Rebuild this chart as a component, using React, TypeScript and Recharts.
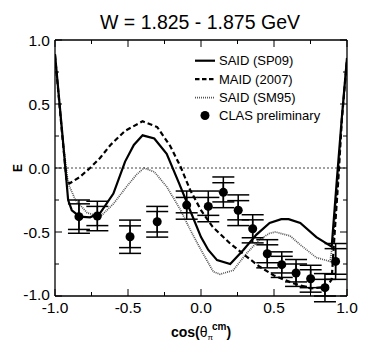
import React from "react";
import { ComposedChart, Line, Scatter, ErrorBar, XAxis, YAxis, ReferenceLine } from "recharts";

const FONT = "'Liberation Sans', Arial, Helvetica, sans-serif";

const AXIS_TICKS = [-1, -0.75, -0.5, -0.25, 0, 0.25, 0.5, 0.75, 1];
const MAJOR_TICKS = [-1, -0.5, 0, 0.5, 1];

// SAID (SP09)
const sp09X = [-1, -0.95, -0.91, -0.885, -0.83, -0.76, -0.69, -0.6, -0.52, -0.46, -0.4, -0.32, -0.235, -0.15, -0.075, 0, 0.05, 0.11, 0.2, 0.29, 0.38, 0.47, 0.55, 0.6, 0.68, 0.79, 0.895, 0.93, 0.965, 1];
const sp09Y = [0.89, 0.27, -0.25, -0.33, -0.38, -0.385, -0.35, -0.2, 0.05, 0.18, 0.255, 0.23, 0.11, -0.12, -0.33, -0.54, -0.64, -0.72, -0.75, -0.64, -0.52, -0.43, -0.4, -0.4, -0.43, -0.54, -0.615, -0.1, 0.4, 0.86];

// MAID (2007)
const maidX = [-1, -0.95, -0.92, -0.9, -0.83, -0.76, -0.69, -0.62, -0.52, -0.4, -0.3, -0.21, -0.14, -0.075, 0, 0.08, 0.2, 0.31, 0.4, 0.5, 0.63, 0.75, 0.86, 0.895, 0.91, 0.94, 0.965, 1];
const maidY = [0.88, 0.25, -0.1, -0.12, -0.07, 0, 0.08, 0.18, 0.29, 0.365, 0.32, 0.17, 0.01, -0.17, -0.33, -0.46, -0.59, -0.69, -0.77, -0.84, -0.9, -0.94, -0.93, -0.87, -0.6, -0.1, 0.38, 0.85];

// SAID (SM95)
const sm95X = [-1, -0.95, -0.91, -0.86, -0.78, -0.69, -0.6, -0.51, -0.44, -0.39, -0.32, -0.235, -0.144, -0.075, 0, 0.084, 0.13, 0.22, 0.31, 0.4, 0.47, 0.51, 0.61, 0.68, 0.79, 0.884, 0.906, 0.94, 0.965, 1];
const sm95Y = [0.87, 0.25, -0.12, -0.25, -0.35, -0.38, -0.28, -0.146, -0.05, 0, -0.03, -0.146, -0.32, -0.48, -0.64, -0.81, -0.83, -0.8, -0.67, -0.56, -0.51, -0.5, -0.53, -0.6, -0.7, -0.73, -0.56, -0.08, 0.38, 0.85];

// CLAS preliminary
const clasX = [-0.836, -0.71, -0.486, -0.3, -0.098, 0.05, 0.153, 0.255, 0.354, 0.454, 0.553, 0.651, 0.751, 0.849, 0.922];
const clasY = [-0.38, -0.375, -0.537, -0.42, -0.29, -0.3, -0.19, -0.33, -0.475, -0.67, -0.755, -0.82, -0.865, -0.935, -0.73];
const clasErrTotal = [0.13, 0.115, 0.13, 0.12, 0.11, 0.12, 0.12, 0.12, 0.11, 0.11, 0.1, 0.105, 0.105, 0.11, 0.14];
const clasErrStat = [0.1, 0.075, 0.085, 0.08, 0.06, 0.07, 0.075, 0.075, 0.07, 0.07, 0.065, 0.07, 0.07, 0.065, 0.1];

const LEGEND_LABELS = ["SAID (SP09)", "MAID (2007)", "SAID (SM95)", "CLAS preliminary"];

const toLine = (xs: number[], ys: number[]) => xs.map((x, i) => ({ x, y: ys[i] }));
const sp09 = toLine(sp09X, sp09Y);
const maid = toLine(maidX, maidY);
const sm95 = toLine(sm95X, sm95Y);
const clas = clasX.map((x, i) => ({ x, y: clasY[i], errTotal: clasErrTotal[i], errStat: clasErrStat[i] }));

const fmt = (v: number) => (v === 0 ? "0.0" : v.toFixed(1));
const isMajor = (v: number) => MAJOR_TICKS.includes(v);

const BottomTick = (props: any) => {
  const { x, y, payload } = props;
  return (
    <g>
      <line x1={x} x2={x} y1={y} y2={y - (isMajor(payload.value) ? 7 : 4)} stroke="#000" strokeWidth={1} />
      {isMajor(payload.value) && (
        <text x={x} y={y + 17} textAnchor="middle" fontSize={15.5} fontFamily={FONT} fill="#000">
          {fmt(payload.value)}
        </text>
      )}
    </g>
  );
};

const TopTick = (props: any) => {
  const { x, y, payload } = props;
  return <line x1={x} x2={x} y1={y} y2={y + (isMajor(payload.value) ? 7 : 4)} stroke="#000" strokeWidth={1} />;
};

const LeftTick = (props: any) => {
  const { x, y, payload } = props;
  // the bottom label sits a touch higher, as in the original
  const dy = payload.value === -1 ? 3.5 : 5.5;
  return (
    <g>
      <line x1={x} x2={x + (isMajor(payload.value) ? 7 : 4)} y1={y} y2={y} stroke="#000" strokeWidth={1} />
      {isMajor(payload.value) && (
        <text x={x - 5} y={y + dy} textAnchor="end" fontSize={15.5} fontFamily={FONT} fill="#000">
          {fmt(payload.value)}
        </text>
      )}
    </g>
  );
};

const RightTick = (props: any) => {
  const { x, y, payload } = props;
  return <line x1={x} x2={x - (isMajor(payload.value) ? 7 : 4)} y1={y} y2={y} stroke="#000" strokeWidth={1} />;
};

const XLabel = (props: any) => {
  const { viewBox } = props;
  const cx = viewBox.x + viewBox.width / 2;
  return (
    <text x={cx} y={viewBox.y + 41} textAnchor="middle" fontSize={14} fontWeight="bold" fontFamily={FONT} fill="#000">
      cos(<tspan fontWeight="normal">θ</tspan>
      <tspan fontSize={8} fontWeight="normal" dy={3}>π</tspan>
      <tspan fontSize={10} dy={-10} dx={-1}>cm</tspan>
      <tspan dy={7}>)</tspan>
    </text>
  );
};

const YLabel = (props: any) => {
  const { viewBox } = props;
  const cx = viewBox.x + 22;
  const cy = viewBox.y + viewBox.height / 2;
  return (
    <text x={cx} y={cy} transform={`rotate(-90, ${cx}, ${cy})`} textAnchor="middle" fontSize={12} fontWeight="bold" fontFamily={FONT} fill="#000">
      E
    </text>
  );
};

const Dot = (props: any) => <circle cx={props.cx} cy={props.cy} r={4.5} fill="#000" />;

const LegendBox = () => {
  const rows = [60.7, 79.2, 97.6, 115.5];
  return (
    <svg width={366} height={350} style={{ position: "absolute", left: 0, top: 0, pointerEvents: "none" }}>
      <text x={200} y={29} textAnchor="middle" fontSize={19.5} fontFamily={FONT} fill="#000">
        W = 1.825 - 1.875 GeV
      </text>
      <line x1={195} x2={215} y1={rows[0]} y2={rows[0]} stroke="#000" strokeWidth={2.2} />
      <line x1={195} x2={215} y1={rows[1]} y2={rows[1]} stroke="#000" strokeWidth={2.2} strokeDasharray="4.5 2.5" />
      <line x1={195} x2={215} y1={rows[2]} y2={rows[2]} stroke="#555" strokeWidth={1.7} strokeDasharray="1 1" />
      <circle cx={205} cy={rows[3]} r={4.5} fill="#000" />
      {LEGEND_LABELS.map((label, i) => (
        <text key={label} x={219} y={rows[i] + 4.7} fontSize={13} fontFamily={FONT} fill="#000">
          {label}
        </text>
      ))}
    </svg>
  );
};

export default function App() {
  return (
    <div style={{ position: "absolute", left: 0, top: 0, width: 366, height: 350, background: "#fff" }}>
      <ComposedChart width={366} height={350} margin={{ top: 39, right: 18, bottom: 0, left: 0 }}>
        <XAxis
          xAxisId="b"
          dataKey="x"
          type="number"
          domain={[-1, 1]}
          ticks={AXIS_TICKS}
          interval={0}
          allowDataOverflow
          tickSize={0}
          tickMargin={0}
          tick={<BottomTick />}
          axisLine={{ stroke: "#000", strokeWidth: 1.3 }}
          height={54}
          label={{ content: XLabel }}
        />
        <XAxis
          xAxisId="t"
          dataKey="x"
          orientation="top"
          type="number"
          domain={[-1, 1]}
          ticks={AXIS_TICKS}
          interval={0}
          allowDataOverflow
          tickSize={0}
          tickMargin={0}
          tick={<TopTick />}
          axisLine={{ stroke: "#000", strokeWidth: 1.3 }}
          height={1}
        />
        <YAxis
          yAxisId="l"
          type="number"
          domain={[-1, 1]}
          ticks={AXIS_TICKS}
          interval={0}
          allowDataOverflow
          tickSize={0}
          tickMargin={0}
          tick={<LeftTick />}
          axisLine={{ stroke: "#000", strokeWidth: 1.3 }}
          width={55}
          label={{ content: YLabel }}
        />
        <YAxis
          yAxisId="r"
          orientation="right"
          type="number"
          domain={[-1, 1]}
          ticks={AXIS_TICKS}
          interval={0}
          allowDataOverflow
          tickSize={0}
          tickMargin={0}
          tick={<RightTick />}
          axisLine={{ stroke: "#000", strokeWidth: 1.3 }}
          width={1}
        />
        <ReferenceLine xAxisId="b" yAxisId="l" y={0} stroke="#444" strokeWidth={1} strokeDasharray="2 2" />
        <Line xAxisId="b" yAxisId="l" data={sm95} dataKey="y" type="linear" stroke="#555" strokeWidth={1.7} strokeDasharray="1 1" dot={false} isAnimationActive={false} />
        <Line xAxisId="b" yAxisId="l" data={maid} dataKey="y" type="linear" stroke="#000" strokeWidth={2.2} strokeDasharray="5 3" dot={false} isAnimationActive={false} />
        <Line xAxisId="t" yAxisId="r" data={sp09} dataKey="y" type="linear" stroke="#000" strokeWidth={2.2} dot={false} isAnimationActive={false} />
        <Scatter xAxisId="b" yAxisId="l" data={clas} dataKey="y" shape={Dot} isAnimationActive={false}>
          <ErrorBar dataKey="errTotal" direction="y" width={11} stroke="#000" strokeWidth={1.5} isAnimationActive={false} />
          <ErrorBar dataKey="errStat" direction="y" width={11} stroke="#000" strokeWidth={1.5} isAnimationActive={false} />
        </Scatter>
      </ComposedChart>
      <LegendBox />
    </div>
  );
}
